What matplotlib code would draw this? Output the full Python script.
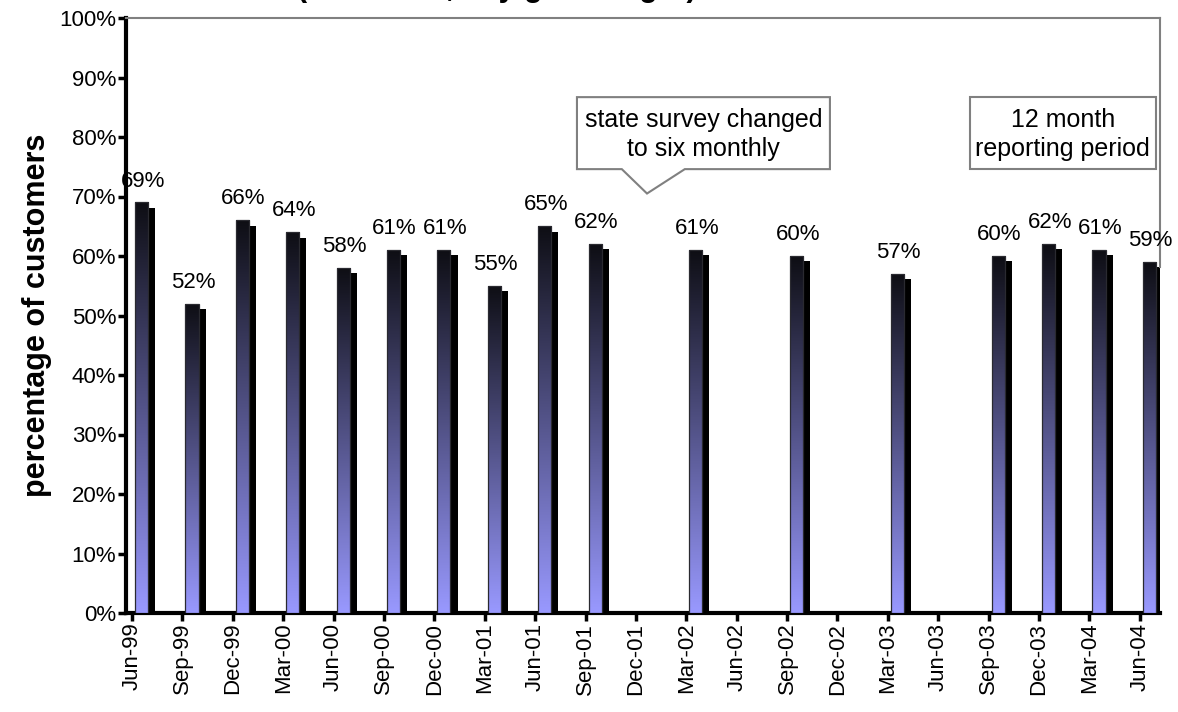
import numpy as np
import matplotlib
matplotlib.use("Agg")
import matplotlib.pyplot as plt
from matplotlib.colors import LinearSegmentedColormap
from matplotlib.patches import Rectangle, Polygon

plt.rcParams['font.family'] = ['Liberation Sans', 'DejaVu Sans']

# quarters and survey results (None = no survey that quarter)
quarters = ["Jun-99", "Sep-99", "Dec-99", "Mar-00", "Jun-00", "Sep-00", "Dec-00",
            "Mar-01", "Jun-01", "Sep-01", "Dec-01", "Mar-02", "Jun-02", "Sep-02",
            "Dec-02", "Mar-03", "Jun-03", "Sep-03", "Dec-03", "Mar-04", "Jun-04"]
pct = [69, 52, 66, 64, 58, 61, 61, 55, 65, 62, None, 61, None, 60, None, 57, None,
       60, 62, 61, 59]

note_survey = "state survey changed\nto six monthly"
note_period = "12 month\nreporting period"
title_txt = "(all clients, any given night)"

fig = plt.figure(figsize=(11.78, 7.12), dpi=100)
ax = fig.add_axes([126 / 1178, 99 / 712, 1034 / 1178, 595 / 712])

cmap = LinearSegmentedColormap.from_list("barfill", ["#9999ff", "#0e0e14"])
grad = np.linspace(0, 1, 256).reshape(-1, 1)

for i, v in enumerate(pct):
    if v is None:
        continue
    # dark side face (3d look)
    ax.add_patch(Rectangle((i + 0.2, 0), 0.26, v - 0.9, facecolor="black",
                           edgecolor="none", zorder=2))
    # gradient front face
    front = Rectangle((i + 0.06, 0), 0.26, v, facecolor="none",
                      edgecolor="#2a2a30", linewidth=0.9, zorder=4)
    ax.add_patch(front)
    im = ax.imshow(grad, cmap=cmap, origin="lower", aspect="auto",
                   extent=(i + 0.06, i + 0.32, 0, v), zorder=3)
    im.set_clip_path(front)
    ax.text(i + 0.21, v + 3.6, f"{v}%", ha="center", va="center",
            fontsize=16, zorder=5)

ax.set_xlim(-0.119, 20.4)
ax.set_ylim(0, 100)
ax.set_xticks(range(len(quarters)))
ax.set_xticklabels(quarters, rotation=90, fontsize=16)
ax.set_yticks(range(0, 101, 10))
ax.set_yticklabels([f"{t}%" for t in range(0, 101, 10)], fontsize=16)
ax.tick_params(direction="out", length=6, width=2.5, color="black", pad=1)

for s in ["left", "bottom"]:
    ax.spines[s].set_linewidth(3)
ax.spines["top"].set_color("#808080")
ax.spines["top"].set_linewidth(1.5)
ax.spines["right"].set_color("#808080")
ax.spines["right"].set_linewidth(1.5)
ax.spines["right"].set_bounds(58.2, 100)

ax.set_ylabel("percentage of customers", fontsize=22, fontweight="bold")
ax.yaxis.set_label_coords(-0.072, 0.5)

# callout with pointer
callout = Polygon([(8.83, 86.7), (13.85, 86.7), (13.85, 74.6), (10.97, 74.6),
                   (10.22, 70.5), (9.72, 74.6), (8.83, 74.6)],
                  closed=True, facecolor="white", edgecolor="#808080",
                  linewidth=1.5, zorder=6)
ax.add_patch(callout)
ax.text(11.34, 80.4, note_survey, ha="center", va="center", fontsize=18,
        linespacing=1.3, zorder=7)

ax.add_patch(Rectangle((16.63, 74.6), 3.69, 12.1, facecolor="white",
                       edgecolor="#808080", linewidth=1.5, zorder=6))
ax.text(18.47, 80.4, note_period, ha="center", va="center", fontsize=18,
        linespacing=1.3, zorder=7)

# title is cut off at the top of the image
fig.text(297 / 1178, 1.006, title_txt, ha="left", va="baseline", fontsize=22,
         fontweight="bold")

fig.savefig("out.png", dpi=100)
